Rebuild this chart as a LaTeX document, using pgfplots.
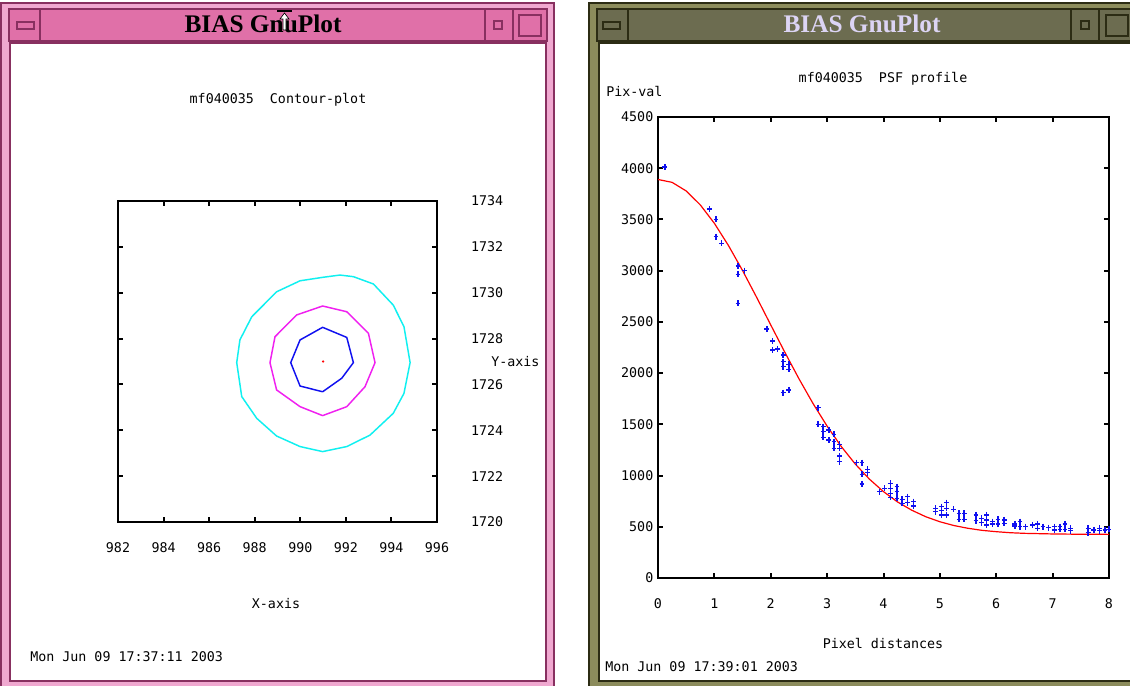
\documentclass[border=0pt]{standalone}
\usepackage{fontspec}
\setmainfont{Liberation Serif}
\setmonofont{DejaVu Sans Mono}
\usepackage{pgfplots}
\pgfplotsset{compat=1.18}

\definecolor{pinkbar}{HTML}{E070A8}
\definecolor{pinkframe}{HTML}{F0A8D0}
\definecolor{pinkdark}{HTML}{883060}
\definecolor{olivebar}{HTML}{6C6C50}
\definecolor{oliveframe}{HTML}{8C8C5C}
\definecolor{olivedark}{HTML}{2C2C14}
\definecolor{lavender}{HTML}{DCD4F4}
\definecolor{gpcyan}{HTML}{10F0F0}
\definecolor{gpmagenta}{HTML}{F020F0}
\definecolor{gpblue}{HTML}{1010F0}

\newcommand{\gpfont}{\ttfamily\fontsize{10}{12}\selectfont}

\pgfplotsset{gp/.style={scale only axis, anchor=south west, tick align=inside,
  axis line style={line width=1.5pt}, every tick/.style={black,line width=1.5pt},
  major tick length=4pt, scaled ticks=false, ticklabel style={font=\gpfont},
  /pgf/number format/assume math mode=true, /pgf/number format/1000 sep={}}}

\begin{document}
\begin{tikzpicture}
\clip (0,0) rectangle (847.5pt,513.75pt);
\fill[white] (0,0) rectangle (847.5pt,513.75pt);

% window frames, in screen pixels
\begin{scope}[x=0.75pt,y=-0.75pt,shift={(0pt,513.75pt)}]
% left window
\fill[pinkframe] (1,3) rectangle (554,690);
\draw[pinkdark,line width=0.8pt] (1,3) rectangle (554,690);
\fill[pinkbar] (9,9) rectangle (547,41);
\draw[pinkdark,line width=1.2pt] (9,9) rectangle (40,41) (40,9) rectangle (485,41)
  (485,9) rectangle (513,41) (513,9) rectangle (547,41);
\draw[pinkdark,line width=0.8pt] (17,22) rectangle (34,29) (494,21) rectangle (502,29) (519,15) rectangle (541,36);
\fill[white] (10,43) rectangle (546,681);
\draw[pinkdark,line width=0.8pt] (10,43) rectangle (546,681);
\node[font=\fontsize{19}{22}\selectfont\bfseries,anchor=base] at (263,33) {BIAS GnuPlot};
\draw[black,line width=1.5pt] (277,11)--(292,11);
\draw[black,line width=0.5pt,fill=white] (284.5,13)--(280,19)--(283,19)--(283,30)--(286,30)--(286,19)--(289,19)--cycle;
% right window
\fill[oliveframe] (589,3) rectangle (1140,690);
\draw[olivedark,line width=0.8pt] (589,3) rectangle (1140,690);
\fill[olivebar] (597,9) rectangle (1140,41);
\draw[olivedark,line width=1.2pt] (597,9) rectangle (628,41) (628,9) rectangle (1071,41)
  (1071,9) rectangle (1099,41) (1099,9) rectangle (1140,41);
\draw[olivedark,line width=0.8pt] (603,22) rectangle (620,29) (1081,21) rectangle (1089,29) (1106,15) rectangle (1128,36);
\fill[white] (599,43) rectangle (1140,681);
\draw[olivedark,line width=0.8pt] (599,43) rectangle (1140,681);
\node[font=\fontsize{19}{22}\selectfont\bfseries,anchor=base,text=lavender] at (862,33) {BIAS GnuPlot};
% texts
\node[font=\gpfont] at (278,100) {mf040035\ \ Contour-plot};
\node[font=\gpfont] at (276,604) {X-axis};
\node[font=\gpfont,anchor=west,inner sep=0] at (491,362) {Y-axis};
\node[font=\gpfont,anchor=west,inner sep=0] at (30,657) {Mon Jun 09 17:37:11 2003};
\node[font=\gpfont] at (883,79) {mf040035\ \ PSF profile};
\node[font=\gpfont,anchor=west,inner sep=0] at (606,92) {Pix-val};
\node[font=\gpfont] at (883,643) {Pixel distances};
\node[font=\gpfont,anchor=west,inner sep=0] at (605,667) {Mon Jun 09 17:39:01 2003};
\end{scope}

% contour plot
\begin{axis}[gp, at={(88.5pt,122.25pt)}, width=239.25pt, height=240.75pt,
  xmin=982, xmax=996, ymin=1720, ymax=1734,
  xtick={982,984,...,996}, ytick={1720,1722,...,1734},
  yticklabel pos=right, yticklabel style={xshift=22pt},
  xticklabel style={yshift=-12pt}]
\addplot[gpcyan,line width=1.1pt] coordinates {(990.98,1723.07) (989.99,1723.29) (988.96,1723.75) (988.09,1724.52) (987.43,1725.47) (987.21,1726.95) (987.35,1727.94) (987.87,1728.95) (988.96,1730.04) (989.99,1730.52) (990.98,1730.67) (991.74,1730.77) (992.33,1730.70) (993.21,1730.38) (994.08,1729.46) (994.55,1728.52) (994.82,1726.95) (994.55,1725.61) (994.08,1724.74) (993.06,1723.79) (992.04,1723.29) (990.98,1723.07)};
\addplot[gpmagenta,line width=1.1pt] coordinates {(990.98,1724.64) (989.99,1725.03) (988.96,1725.76) (988.67,1726.95) (988.89,1728.08) (989.84,1729.03) (990.98,1729.42) (992.04,1729.17) (992.99,1728.23) (993.28,1726.95) (992.84,1725.90) (992.04,1725.03) (990.98,1724.64)};
\addplot[gpblue,line width=1.1pt] coordinates {(990.98,1725.68) (989.99,1725.93) (989.58,1726.95) (989.99,1727.94) (990.98,1728.49) (992.04,1728.05) (992.33,1726.95) (991.82,1726.27) (990.98,1725.68)};
\addplot[red,only marks,mark=*,mark size=0.6pt] coordinates {(991,1727)};
\end{axis}

% PSF profile
\begin{axis}[gp, at={(493.5pt,80.25pt)}, width=338.25pt, height=345.75pt,
  xmin=0, xmax=8, ymin=0, ymax=4500,
  xtick={0,1,...,8}, ytick={0,500,...,4500},
  xticklabel style={yshift=-12pt}]
\addplot[red,line width=0.9pt] coordinates {(0,3890) (0.25,3862) (0.5,3778) (0.75,3642) (1,3462) (1.25,3245) (1.5,3001) (1.75,2739) (2,2470) (2.25,2203) (2.5,1945) (2.75,1703) (3,1482) (3.25,1284) (3.5,1112) (3.75,965) (4,843) (4.25,742) (4.5,662) (4.75,598) (5,549) (5.25,512) (5.5,485) (5.75,465) (6,452) (6.25,442) (6.5,436) (7,430) (7.5,427) (8,426)};
\addplot[gpblue,only marks,mark=+,mark size=1.8pt,mark options={line width=1.1pt,yscale=1.3}] coordinates {(0.12,4010) (0.91,3602) (1.03,3501) (1.03,3332) (1.13,3267) (1.42,3045) (1.42,2964) (1.53,3000) (1.42,2681) (1.93,2430) (2.03,2313) (2.03,2226) (2.12,2235) (2.22,2177) (2.22,2112) (2.22,2063) (2.32,2086) (2.32,2037) (2.22,1809) (2.32,1835) (2.84,1663) (2.84,1500) (2.93,1477) (2.93,1428) (2.93,1373) (3.03,1445) (3.03,1347) (3.12,1402) (3.12,1331) (3.12,1266) (3.22,1305) (3.22,1266) (3.22,1191) (3.22,1135) (3.52,1126) (3.62,1126) (3.62,1012) (3.62,918) (3.72,1061) (3.72,1028) (3.93,843) (4.02,875) (4.12,924) (4.12,875) (4.12,826) (4.12,787) (4.24,891) (4.24,843) (4.24,778) (4.33,768) (4.33,729) (4.43,794) (4.43,735) (4.53,745) (4.53,703) (4.92,680) (4.92,647) (5.03,696) (5.03,657) (5.03,615) (5.12,735) (5.12,680) (5.12,615) (5.24,670) (5.34,631) (5.34,573) (5.43,631) (5.43,573) (5.64,615) (5.64,560) (5.74,582) (5.74,540) (5.83,615) (5.83,566) (5.83,517) (5.93,550) (5.93,527) (6.03,573) (6.03,527) (6.14,566) (6.14,534) (6.33,527) (6.33,508) (6.42,550) (6.42,501) (6.52,501) (6.64,517) (6.73,527) (6.73,485) (6.83,501) (6.93,491) (7.03,501) (7.03,469) (7.13,501) (7.13,475) (7.22,527) (7.22,475) (7.32,485) (7.32,462) (7.63,485) (7.63,442) (7.73,469) (7.83,485) (7.83,462) (7.93,469) (8.0,475)};
\end{axis}
\end{tikzpicture}
\end{document}
